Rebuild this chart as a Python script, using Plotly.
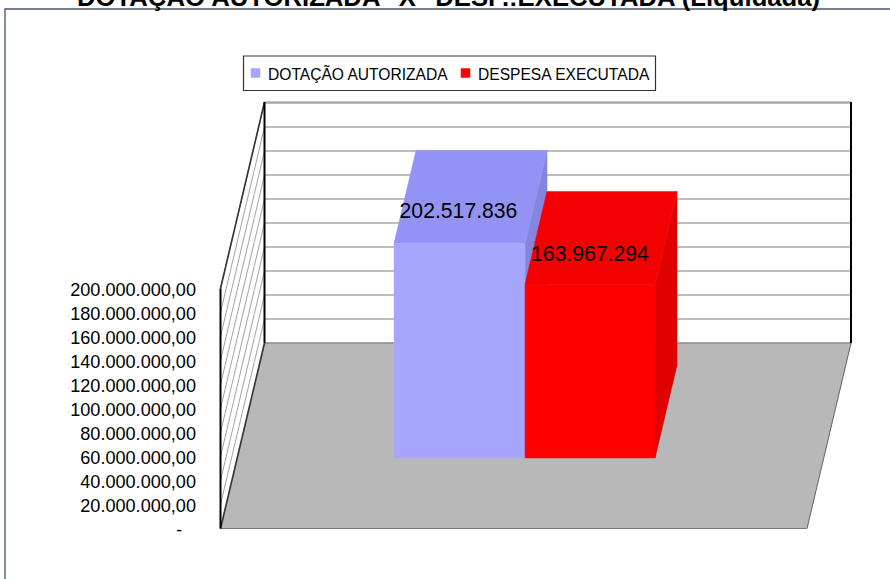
import plotly.graph_objects as go

# ---- data ----
series_names = ["DOTAÇÃO AUTORIZADA", "DESPESA EXECUTADA"]
series_values = [202517836, 163967294]
series_labels = ["202.517.836", "163.967.294"]
tick_values = [0, 20e6, 40e6, 60e6, 80e6, 100e6, 120e6, 140e6, 160e6, 180e6, 200e6]
tick_labels = ["-\u00a0\u00a0\u2009", "20.000.000,00", "40.000.000,00", "60.000.000,00", "80.000.000,00",
               "100.000.000,00", "120.000.000,00", "140.000.000,00", "160.000.000,00",
               "180.000.000,00", "200.000.000,00"]
title_text = "DOTAÇÃO AUTORIZADA \"X\" DESP.:EXECUTADA (Liquidada)"

# ---- colours ----
front_colors = ["#A6A6FF", "#FF0000"]
top_colors = ["#9393F5", "#F50000"]
side_colors = ["#8585DF", "#E00000"]
FLOOR = "#B8B8B8"
FONT = "Liberation Sans, Arial, sans-serif"

# ---- oblique projection of the 3-D box into the page ----
W, H = 890, 579
X0, Y0 = 220.5, 528.5     # front-left corner of the floor
X1 = 807.0                # front-right corner of the floor
DX, DY = 44.0, 185.5      # shift of the full depth
AXIS_PX = 240 / 200e6     # px per unit on the printed axis
BAR_PX = 1.06 / 1e6       # px per unit for the bars
WALL_TOP = 241            # height of the back wall in px


def proj(x, depth, h=0.0):
    """x in px along the front edge, depth 0-1, h = px above the floor."""
    return X0 + x + DX * depth, Y0 - DY * depth - h


def poly(points):
    xs, ys = zip(*points)
    return list(xs) + [xs[0]], list(ys) + [ys[0]]


fig = go.Figure()


def add_poly(points, fill, line=None, width=0):
    xs, ys = poly(points)
    fig.add_trace(go.Scatter(x=xs, y=ys, mode="lines", fill="toself", fillcolor=fill,
                             line=dict(color=line or fill, width=width or 0.5),
                             hoverinfo="skip", showlegend=False))


def add_line(a, b, color, width):
    fig.add_trace(go.Scatter(x=[a[0], b[0]], y=[a[1], b[1]], mode="lines",
                             line=dict(color=color, width=width),
                             hoverinfo="skip", showlegend=False))


span = X1 - X0
# floor
add_poly([proj(0, 0), proj(span, 0), proj(span, 1), proj(0, 1)], FLOOR)
# gridlines on back wall and hatch on side wall
for v in tick_values[1:]:
    h = v * AXIS_PX
    add_line(proj(0, 1, h), proj(span, 1, h), "#A8A8A8", 1.4)
    add_line(proj(0, 0, h), proj(0, 1, h), "#8A8A8A", 0.8)
add_line(proj(0, 1, WALL_TOP), proj(span, 1, WALL_TOP), "#8C8C8C", 1)
add_line(proj(0, 1), proj(span, 1), "#8C8C8C", 1.4)

# wall and floor edges
add_line(proj(0, 0), proj(span, 0), "#777777", 1)
add_line(proj(span, 0), proj(span, 1), "#666666", 1)
add_line(proj(0, 0), proj(0, 1), "#333333", 1.6)
add_line(proj(0, 0, 240), proj(0, 1, WALL_TOP), "#333333", 1.6)
add_line(proj(0, 0), proj(0, 0, 240), "#000000", 2)
add_line(proj(0, 1), proj(0, 1, WALL_TOP), "#000000", 2)
add_line(proj(span, 1), proj(span, 1, WALL_TOP), "#000000", 2)

# bars
BAR_X = [156.8, 287.8, 417.8]   # px along the front edge
D_FRONT, D_BACK = 0.38, 0.88
for i, val in enumerate(series_values):
    xa, xb = BAR_X[i], BAR_X[i + 1]
    h = val * BAR_PX
    add_poly([proj(xb, D_FRONT), proj(xb, D_BACK), proj(xb, D_BACK, h), proj(xb, D_FRONT, h)], side_colors[i])
    add_poly([proj(xa, D_FRONT, h), proj(xb, D_FRONT, h), proj(xb, D_BACK, h), proj(xa, D_BACK, h)], top_colors[i])
    add_poly([proj(xa, D_FRONT), proj(xb, D_FRONT), proj(xb, D_FRONT, h), proj(xa, D_FRONT, h)], front_colors[i])

# data labels
LABEL_X = [458.5, 590]
LABEL_Y = [212.3, 255.3]
fig.add_trace(go.Scatter(x=LABEL_X, y=LABEL_Y, mode="text", text=series_labels,
                         textposition="middle center",
                         textfont=dict(family=FONT, size=21.2, color="#000000"),
                         hoverinfo="skip", showlegend=False))

# value axis carrying the tick labels
fig.add_trace(go.Scatter(x=[300], y=[0], yaxis="y2", mode="markers", marker=dict(opacity=0),
                         hoverinfo="skip", showlegend=False))

# legend
LEG_MARK_X = [255.5, 465.5]
LEG_TEXT_X = [268, 478]
fig.add_trace(go.Scatter(x=LEG_MARK_X, y=[73, 73], mode="markers",
                         marker=dict(symbol="square", size=9.5, color=front_colors, line=dict(width=0)),
                         hoverinfo="skip", showlegend=False))
fig.add_trace(go.Scatter(x=LEG_TEXT_X, y=[75.8, 75.8], mode="text", text=series_names,
                         textposition="middle right",
                         textfont=dict(family=FONT, size=15.6, color="#000000"),
                         hoverinfo="skip", showlegend=False))

fig.update_layout(
    width=W, height=H, autosize=False, margin=dict(l=0, r=0, t=0, b=0, autoexpand=False),
    paper_bgcolor="#FFFFFF", plot_bgcolor="rgba(0,0,0,0)", showlegend=False,
    xaxis=dict(range=[0, W], visible=False, fixedrange=True),
    yaxis=dict(range=[H, 0], visible=False, fixedrange=True),
    yaxis2=dict(
        domain=[(H - Y0 - 0.7) / H, (H - Y0 - 0.7 + 240) / H], range=[0, 200e6],
        anchor="free", position=196 / W, side="left",
        tickmode="array", tickvals=tick_values, ticktext=tick_labels,
        showgrid=False, zeroline=False, showline=False, ticks="",
        tickfont=dict(family=FONT, size=18.1, color="#000000"), fixedrange=True,
    ),
    shapes=[
        dict(type="rect", xref="x", yref="y", x0=5, y0=9, x1=W + 10, y1=H + 10,
             line=dict(color="#4A5568", width=1.3), fillcolor="rgba(0,0,0,0)", layer="below"),
        dict(type="rect", xref="x", yref="y", x0=243.5, y0=56, x1=655.5, y1=90.5,
             line=dict(color="#333333", width=1.2), fillcolor="#FFFFFF", layer="below"),
    ],
    annotations=[
        dict(text="<b>" + title_text + "</b>", xref="paper", yref="paper", x=448.5 / W, y=1 + 3.5 / H,
             xanchor="center", yanchor="middle", showarrow=False,
             font=dict(family=FONT, size=25.7, color="#000000")),
    ],
)

fig.write_html("out.html", config={"displayModeBar": False},
               post_script="document.body.style.margin='0';document.body.style.overflow='hidden';")
